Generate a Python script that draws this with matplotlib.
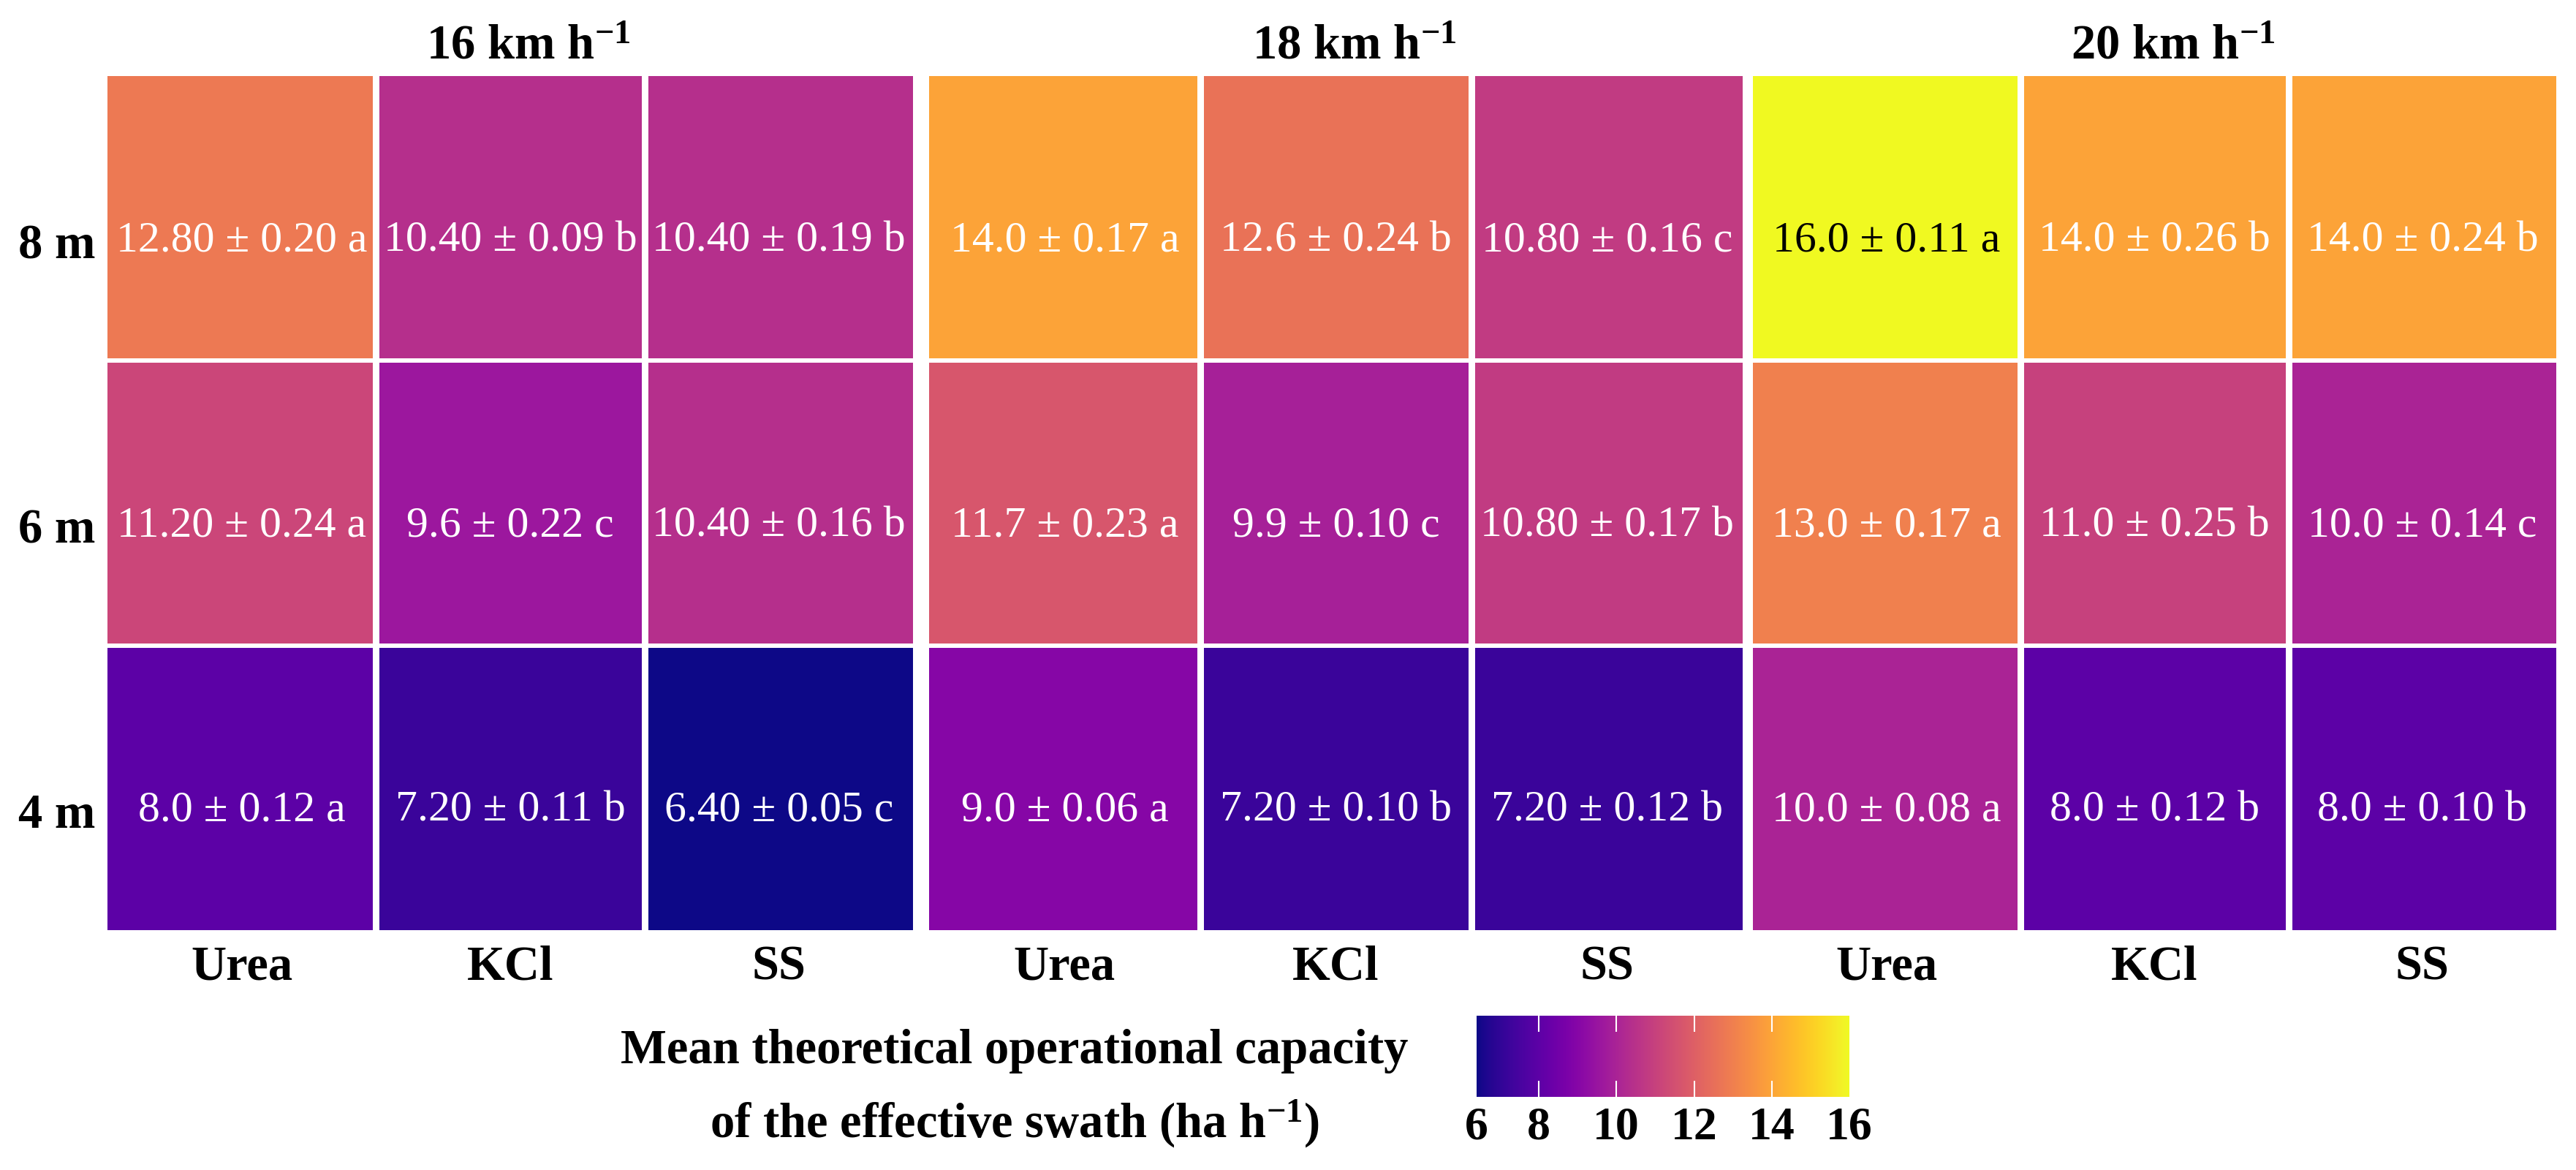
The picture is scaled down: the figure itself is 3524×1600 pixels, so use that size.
import numpy as np
import matplotlib
matplotlib.use("Agg")
from matplotlib import pyplot as plt
from matplotlib import transforms
from matplotlib.colors import Normalize

plt.rcParams['font.family'] = ['Liberation Serif', 'DejaVu Serif']
plt.rcParams['mathtext.fontset'] = 'custom'
plt.rcParams['mathtext.rm'] = 'Liberation Serif'
plt.rcParams['mathtext.bf'] = 'Liberation Serif:bold'
plt.rcParams['mathtext.default'] = 'bf'

# datos
velocidades = ["16", "18", "20"]
fertilizantes = ["Urea", "KCl", "SS"]
anchos = ["8 m", "6 m", "4 m"]

# medias (texto tal cual aparece), desviaciones y letras, filas = 8 m, 6 m, 4 m
media_16 = [["12.80", "10.40", "10.40"],
            ["11.20", "9.6", "10.40"],
            ["8.0", "7.20", "6.40"]]
de_16 = [["0.20", "0.09", "0.19"],
         ["0.24", "0.22", "0.16"],
         ["0.12", "0.11", "0.05"]]
letra_16 = [["a", "b", "b"],
            ["a", "c", "b"],
            ["a", "b", "c"]]

media_18 = [["14.0", "12.6", "10.80"],
            ["11.7", "9.9", "10.80"],
            ["9.0", "7.20", "7.20"]]
de_18 = [["0.17", "0.24", "0.16"],
         ["0.23", "0.10", "0.17"],
         ["0.06", "0.10", "0.12"]]
letra_18 = [["a", "b", "c"],
            ["a", "c", "b"],
            ["a", "b", "b"]]

media_20 = [["16.0", "14.0", "14.0"],
            ["13.0", "11.0", "10.0"],
            ["10.0", "8.0", "8.0"]]
de_20 = [["0.11", "0.26", "0.24"],
         ["0.17", "0.25", "0.14"],
         ["0.08", "0.12", "0.10"]]
letra_20 = [["a", "b", "b"],
            ["a", "b", "c"],
            ["a", "b", "b"]]

cbar_ticks = [6, 8, 10, 12, 14, 16]

medias = [media_16, media_18, media_20]
des = [de_16, de_18, de_20]
letras = [letra_16, letra_18, letra_20]

W, H = 3524, 1600
fig = plt.figure(figsize=(W / 100, H / 100), dpi=100)

def caja(x0, y0, x1, y1):
    # pixeles (origen arriba a la izquierda) -> fraccion de figura
    return [x0 / W, 1 - y1 / H, (x1 - x0) / W, (y1 - y0) / H]

todos = np.array([[float(v) for fila in m for v in fila] for m in medias])
norm = Normalize(vmin=todos.min(), vmax=todos.max())
cmap = plt.get_cmap('plasma')

paneles_x = [(147, 1249), (1271, 2384), (2398, 3497)]
y_top, y_bot = 104, 1272
off = 0.08  # el texto queda un poco por debajo del centro

for k, (x0, x1) in enumerate(paneles_x):
    ax = fig.add_axes(caja(x0, y_top, x1, y_bot))
    datos = np.array(medias[k], dtype=float)
    mesh = ax.pcolormesh(np.arange(4), np.arange(4), datos, cmap=cmap, norm=norm)
    ax.set_xlim(0, 3)
    ax.set_ylim(3, 0)
    for v in [1, 2]:
        ax.axvline(v, color='white', lw=9 * 0.72)
        ax.axhline(v, color='white', lw=6 * 0.72)
    for s in ax.spines.values():
        s.set_visible(False)
    ax.set_xticks([])
    if k == 0:
        ax.set_yticks(np.arange(3) + 0.5 + off)
        ax.set_yticklabels(anchos, fontsize=48, fontweight='bold')
        ax.tick_params(axis='y', length=0, pad=12)
    else:
        ax.set_yticks([])

    for i in range(3):
        for j in range(3):
            txt = f"{medias[k][i][j]} ± {des[k][i][j]} {letras[k][i][j]}"
            color = 'black' if datos[i, j] > 15 else 'white'
            ax.text(j + 0.5, i + 0.5 + off, txt, ha='center', va='center',
                    fontsize=43, color=color)

    trans = transforms.blended_transform_factory(ax.transData, fig.transFigure)
    for j, f in enumerate(fertilizantes):
        ax.text(j + 0.5, 1 - 1323 / H, f, transform=trans, ha='center',
                va='center', fontsize=48, fontweight='bold')

    xc = (x0 + x1) / 2 + 25
    fig.text(xc / W, 1 - 80 / H, velocidades[k] + r" km h$^{-1}$",
             ha='center', va='baseline', fontsize=48, fontweight='bold')

# barra de color
cax = fig.add_axes(caja(2020, 1389, 2530, 1500))
cb = fig.colorbar(mesh, cax=cax, orientation='horizontal')
cb.outline.set_visible(False)
pos = [norm.vmin] + cbar_ticks[1:-1] + [norm.vmax]
cb.set_ticks(pos)
cb.set_ticklabels([str(t) for t in cbar_ticks])
cax.tick_params(axis='x', direction='in', colors='white', length=16, width=1.5,
                top=True, bottom=True, labelsize=46, pad=10, labelcolor='black')
for lab in cax.get_xticklabels():
    lab.set_fontweight('bold')
ticks = cax.xaxis.get_major_ticks()
for t in [ticks[0], ticks[-1]]:
    t.tick1line.set_visible(False)
    t.tick2line.set_visible(False)

fig.text(1388 / W, 1 - 1437 / H, "Mean theoretical operational capacity",
         ha='center', va='center', fontsize=48, fontweight='bold')
fig.text(1388 / W, 1 - 1537 / H, r"of the effective swath (ha h$^{-1}$)",
         ha='center', va='center', fontsize=48, fontweight='bold')

plt.savefig('out.png', dpi=100)
